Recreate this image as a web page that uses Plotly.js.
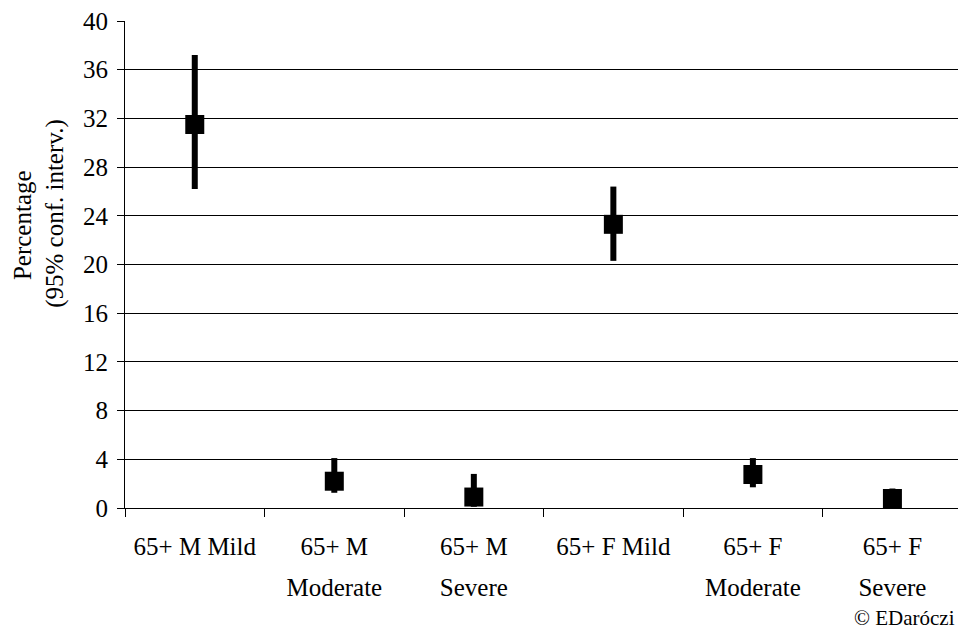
<!DOCTYPE html>
<html>
<head>
<meta charset="utf-8">
<script src="https://cdn.plot.ly/plotly-3.0.1.min.js"></script>
<style>html,body{margin:0;padding:0;background:#fff;}#chart{width:958px;height:632px;}</style>
</head>
<body>
<div id="chart"></div>
<script>
// Data
const categories = ["65+ M Mild", "65+ M Moderate", "65+ M Severe", "65+ F Mild", "65+ F Moderate", "65+ F Severe"];
const labelLine1 = ["65+ M Mild", "65+ M", "65+ M", "65+ F Mild", "65+ F", "65+ F"];
const labelLine2 = ["", "Moderate", "Severe", "", "Moderate", "Severe"];
const estimate = [31.5, 2.2, 0.9, 23.3, 2.75, 0.78];
const upperCI = [37.2, 4.1, 2.8, 26.4, 4.1, 1.6];
const lowerCI = [26.2, 1.25, 0.1, 20.3, 1.7, 0.1];
const yTicks = [0, 4, 8, 12, 16, 20, 24, 28, 32, 36, 40];
const yTitleLines = ["Percentage", "(95% conf. interv.)"];
const credit = "© EDaróczi";

const serif = "Liberation Serif, Times New Roman, serif";
const FS = 25;
const idx = categories.map((c, i) => i);

const main = {
  type: "scatter",
  mode: "markers",
  x: categories,
  y: estimate,
  marker: {symbol: "square", size: 19, color: "#000"},
  error_y: {
    type: "data",
    symmetric: false,
    array: upperCI.map((u, i) => u - estimate[i]),
    arrayminus: lowerCI.map((l, i) => estimate[i] - l),
    color: "#000",
    thickness: 6,
    width: 0
  },
  hoverinfo: "x+y",
  showlegend: false
};

// invisible helper trace so the second-line label axis is drawn
const helper = {
  type: "scatter", mode: "markers", x: idx, y: idx.map(() => null),
  xaxis: "x2", yaxis: "y", hoverinfo: "skip", showlegend: false
};

const layout = {
  width: 958, height: 632,
  margin: {l: 125, r: 0, t: 21, b: 124},
  paper_bgcolor: "#fff", plot_bgcolor: "#fff",
  font: {family: serif, size: FS, color: "#000"},
  xaxis: {
    type: "category",
    categoryorder: "array",
    categoryarray: categories,
    tickmode: "array",
    tickvals: categories,
    ticktext: labelLine1,
    range: [-0.5, 5.47],
    tickson: "boundaries",
    ticks: "outside", ticklen: 8, tickcolor: "#000", tickwidth: 1,
    showline: true, linecolor: "#000", linewidth: 1,
    showgrid: false, zeroline: false,
    ticklabelstandoff: 16,
    tickfont: {family: serif, size: FS, color: "#000"},
    fixedrange: true
  },
  xaxis2: {
    overlaying: "x", anchor: "y", side: "bottom",
    type: "linear",
    range: [-0.5, 5.47],
    tickmode: "array",
    tickvals: idx,
    ticktext: labelLine2,
    ticks: "", showline: false, showgrid: false, zeroline: false,
    ticklabelstandoff: 62,
    tickfont: {family: serif, size: FS, color: "#000"},
    fixedrange: true
  },
  yaxis: {
    range: [0, 40],
    tickmode: "array",
    tickvals: yTicks,
    ticks: "outside", ticklen: 7, tickcolor: "#000", tickwidth: 1,
    showline: true, linecolor: "#000", linewidth: 1,
    showgrid: true, gridcolor: "#000", gridwidth: 1,
    zeroline: false,
    ticklabelstandoff: 4,
    tickfont: {family: serif, size: FS, color: "#000"},
    fixedrange: true
  },
  annotations: [
    {
      text: yTitleLines[0], xref: "paper", yref: "paper",
      x: 0, y: 0.581, xanchor: "center", yanchor: "middle", xshift: -103,
      textangle: -90, showarrow: false,
      font: {family: serif, size: FS, color: "#000"}
    },
    {
      text: yTitleLines[1], xref: "paper", yref: "paper",
      x: 0, y: 0.604, xanchor: "center", yanchor: "middle", xshift: -70,
      textangle: -90, showarrow: false,
      font: {family: serif, size: FS, color: "#000"}
    },
    {
      text: credit,
      xref: "paper", yref: "paper",
      x: 1, y: 0, xanchor: "right", yanchor: "bottom",
      yshift: -124, xshift: -1,
      showarrow: false,
      font: {family: serif, size: 21, color: "#000"}
    }
  ]
};

Plotly.newPlot("chart", [main, helper], layout, {displayModeBar: false});
</script>
</body>
</html>
